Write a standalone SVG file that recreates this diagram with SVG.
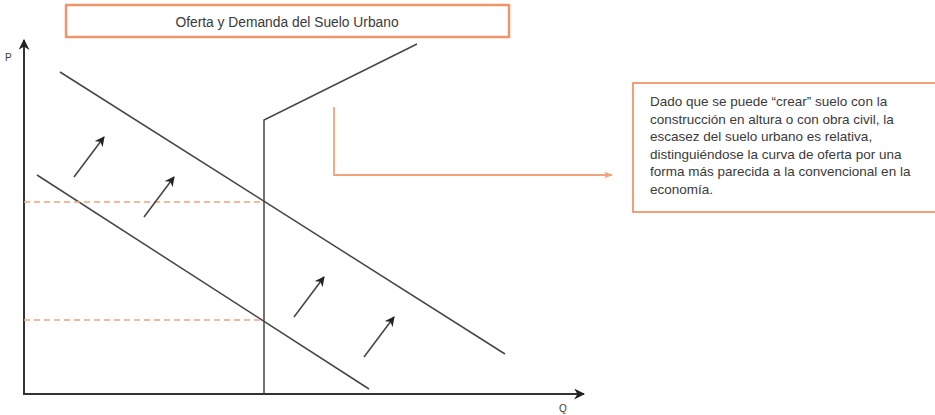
<svg xmlns="http://www.w3.org/2000/svg" width="935" height="415" viewBox="0 0 935 415">
<style>
.t{font-family:"Liberation Sans",Arial,sans-serif;fill:#3a3a3a}
.ln{stroke:#454545;stroke-width:1.5;fill:none}
.ax{stroke:#333;stroke-width:2;fill:none}
.ds{stroke:#f2a27c;stroke-width:1.3;stroke-dasharray:6 4;fill:none}
.ob{fill:#fff;stroke:#f0956a}
</style>
<defs>
<marker id="ah" viewBox="0 0 10 10" refX="9" refY="5" markerWidth="10" markerHeight="10" orient="auto" markerUnits="userSpaceOnUse"><path d="M0,0 L10,5 L0,10 L3,5 Z" fill="#222"/></marker>
<marker id="aa" viewBox="0 0 10 10" refX="9" refY="5" markerWidth="11" markerHeight="11" orient="auto" markerUnits="userSpaceOnUse"><path d="M0,0 L10,5 L0,10 L3,5 Z" fill="#222"/></marker>
<marker id="ao" viewBox="0 0 10 10" refX="9" refY="5" markerWidth="9" markerHeight="9" orient="auto" markerUnits="userSpaceOnUse"><path d="M0,1 L10,5 L0,9 L3,5 Z" fill="#f2a27c"/></marker>
</defs>
<g id="title">
<rect class="ob" x="66" y="5" width="443" height="32" stroke-width="2.5"/>
<text class="t" x="287" y="27" font-size="13.8" text-anchor="middle">Oferta y Demanda del Suelo Urbano</text>
</g>
<g id="note">
<rect class="ob" x="633" y="83" width="310" height="129" stroke-width="1.8"/>
<text class="t" font-size="13.5">
<tspan x="650" y="106">Dado que se puede “crear” suelo con la</tspan>
<tspan x="650" y="123.5">construcción en altura o con obra civil, la</tspan>
<tspan x="650" y="141">escasez del suelo urbano es relativa,</tspan>
<tspan x="650" y="158.5">distinguiéndose la curva de oferta por una</tspan>
<tspan x="650" y="176">forma más parecida a la convencional en la</tspan>
<tspan x="650" y="193.5">economía.</tspan>
</text>
</g>
<g id="axes">
<line class="ax" x1="24" y1="394" x2="24" y2="40" marker-end="url(#aa)"/>
<line class="ax" x1="23" y1="394" x2="584" y2="394" marker-end="url(#aa)"/>
<text class="t" x="5" y="61" font-size="10">P</text>
<text class="t" x="559" y="412" font-size="10">Q</text>
</g>
<g id="curves">
<line class="ln" x1="60" y1="72" x2="505" y2="354"/>
<line class="ln" x1="37" y1="175" x2="369" y2="389"/>
<polyline class="ln" points="264,394 264,120 417,44"/>
</g>
<g id="connectors">
<line class="ds" x1="24" y1="202" x2="264" y2="202"/>
<line class="ds" x1="24" y1="320" x2="264" y2="320"/>
<polyline points="334,107 334,175 612,175" fill="none" stroke="#f2a27c" stroke-width="1.8" marker-end="url(#ao)"/>
<line class="ln" x1="74" y1="177" x2="104" y2="137" marker-end="url(#ah)"/>
<line class="ln" x1="144" y1="217" x2="174" y2="177" marker-end="url(#ah)"/>
<line class="ln" x1="294" y1="317" x2="324" y2="277" marker-end="url(#ah)"/>
<line class="ln" x1="364" y1="357" x2="394" y2="317" marker-end="url(#ah)"/>
</g>
</svg>
